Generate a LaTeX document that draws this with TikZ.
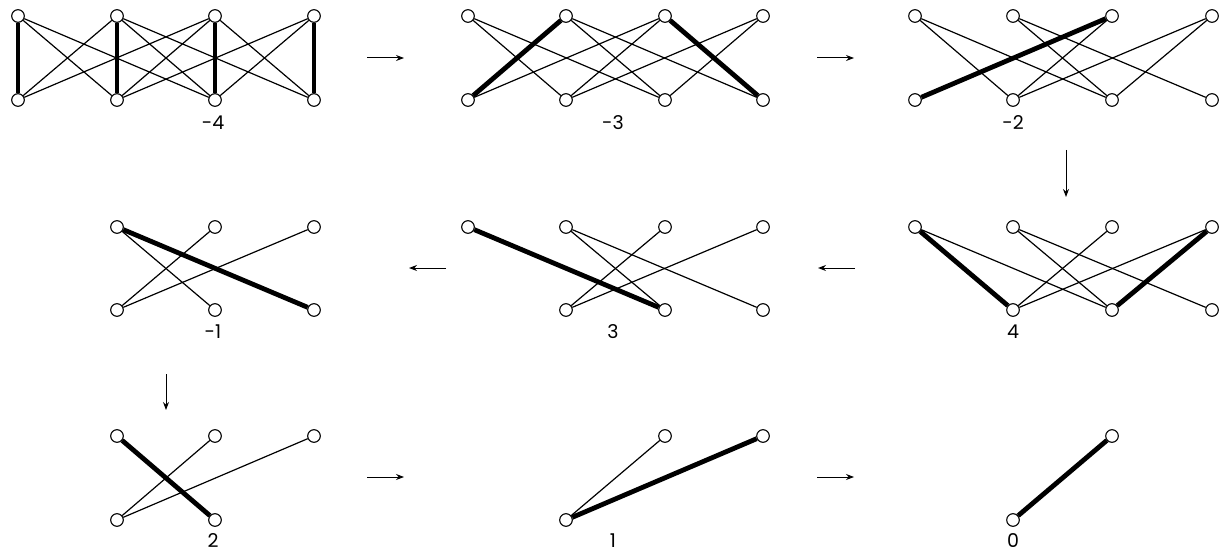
\documentclass[tikz,border=0pt]{standalone}
\usepackage{fontspec}
\setmainfont{Poppins}
\usetikzlibrary{arrows.meta}
\begin{document}
\begin{tikzpicture}[x=1pt,y=-1pt,
  vtx/.style={circle,draw,fill=white,minimum size=12.6pt,inner sep=0pt,line width=1.1pt},
  te/.style={line width=1.2pt},
  tk/.style={line width=4.8pt},
  lbl/.style={font=\fontsize{19}{19}\selectfont,inner sep=0pt},
  flow/.style={-{Stealth[length=8pt,width=6pt]},line width=1pt}]
\useasboundingbox (0,0) rectangle (1223,556);

% ---------- Graph A (-4) ----------
\foreach \i/\x in {1/18,2/117,3/215,4/314}{
  \node[vtx] (A-t\i) at (\x,16) {};
  \node[vtx] (A-b\i) at (\x,100) {};}
\foreach \a/\b in {t1/b2,t1/b3,t2/b1,t2/b3,t2/b4,t3/b1,t3/b2,t3/b4,t4/b2,t4/b3}
  \draw[te] (A-\a) -- (A-\b);
\foreach \a/\b in {t1/b1,t2/b2,t3/b3,t4/b4}
  \draw[tk] (A-\a) -- (A-\b);
\node[lbl] (A-lab) at (213,123) {-4};

% ---------- Graph B (-3) ----------
\foreach \i/\x in {1/468,2/566,3/665,4/763}{
  \node[vtx] (B-t\i) at (\x,16) {};
  \node[vtx] (B-b\i) at (\x,100) {};}
\foreach \a/\b in {t1/b2,t1/b3,t2/b3,t2/b4,t3/b1,t3/b2,t4/b2,t4/b3}
  \draw[te] (B-\a) -- (B-\b);
\foreach \a/\b in {t2/b1,t3/b4}
  \draw[tk] (B-\a) -- (B-\b);
\node[lbl] (B-lab) at (613,123) {-3};

% ---------- Graph C (-2) ----------
\foreach \i/\x in {1/915,2/1013,3/1112,4/1212}{
  \node[vtx] (C-t\i) at (\x,16) {};
  \node[vtx] (C-b\i) at (\x,100) {};}
\foreach \a/\b in {t1/b2,t1/b3,t2/b3,t2/b4,t3/b2,t4/b2,t4/b3}
  \draw[te] (C-\a) -- (C-\b);
\draw[tk] (C-t3) -- (C-b1);
\node[lbl] (C-lab) at (1013,123) {-2};

% ---------- Graph D (4) ----------
\foreach \i/\x in {1/915,2/1013,3/1112,4/1212}
  \node[vtx] (D-t\i) at (\x,227) {};
\foreach \i/\x in {2/1013,3/1112,4/1212}
  \node[vtx] (D-b\i) at (\x,310) {};
\foreach \a/\b in {t1/b3,t2/b3,t2/b4,t3/b2,t4/b2}
  \draw[te] (D-\a) -- (D-\b);
\foreach \a/\b in {t1/b2,t4/b3}
  \draw[tk] (D-\a) -- (D-\b);
\node[lbl] (D-lab) at (1013,332) {4};

% ---------- Graph E (3) ----------
\foreach \i/\x in {1/468,2/566,3/665,4/763}
  \node[vtx] (E-t\i) at (\x,227) {};
\foreach \i/\x in {2/566,3/665,4/763}
  \node[vtx] (E-b\i) at (\x,310) {};
\foreach \a/\b in {t2/b3,t2/b4,t3/b2,t4/b2}
  \draw[te] (E-\a) -- (E-\b);
\draw[tk] (E-t1) -- (E-b3);
\node[lbl] (E-lab) at (613,332) {3};

% ---------- Graph F (-1) ----------
\foreach \i/\x in {2/117,3/215,4/314}{
  \node[vtx] (F-t\i) at (\x,227) {};
  \node[vtx] (F-b\i) at (\x,310) {};}
\foreach \a/\b in {t2/b3,t3/b2,t4/b2}
  \draw[te] (F-\a) -- (F-\b);
\draw[tk] (F-t2) -- (F-b4);
\node[lbl] (F-lab) at (213,332) {-1};

% ---------- Graph G (2) ----------
\foreach \i/\x in {2/117,3/215,4/314}
  \node[vtx] (G-t\i) at (\x,436) {};
\foreach \i/\x in {2/117,3/215}
  \node[vtx] (G-b\i) at (\x,520) {};
\foreach \a/\b in {t3/b2,t4/b2}
  \draw[te] (G-\a) -- (G-\b);
\draw[tk] (G-t2) -- (G-b3);
\node[lbl] (G-lab) at (213,541) {2};

% ---------- Graph H (1) ----------
\node[vtx] (H-t3) at (665,436) {};
\node[vtx] (H-t4) at (763,436) {};
\node[vtx] (H-b2) at (566,520) {};
\draw[te] (H-t3) -- (H-b2);
\draw[tk] (H-t4) -- (H-b2);
\node[lbl] (H-lab) at (613,541) {1};

% ---------- Graph I (0) ----------
\node[vtx] (I-t3) at (1112,436) {};
\node[vtx] (I-b2) at (1013,520) {};
\draw[tk] (I-t3) -- (I-b2);
\node[lbl] (I-lab) at (1013,541) {0};

% ---------- flow arrows ----------
\coordinate (a1s) at (367,58);   \coordinate (a1e) at (404,58);
\coordinate (a2s) at (817,58);   \coordinate (a2e) at (854,58);
\coordinate (a3s) at (1066,150); \coordinate (a3e) at (1066,197);
\coordinate (a4s) at (855,268);  \coordinate (a4e) at (818,268);
\coordinate (a5s) at (446,268);  \coordinate (a5e) at (409,268);
\coordinate (a6s) at (166,374);  \coordinate (a6e) at (166,410);
\coordinate (a7s) at (367,477);  \coordinate (a7e) at (404,477);
\coordinate (a8s) at (817,477);  \coordinate (a8e) at (854,477);
\foreach \k in {1,...,8}
  \draw[flow] (a\k s) -- (a\k e);
\end{tikzpicture}
\end{document}
